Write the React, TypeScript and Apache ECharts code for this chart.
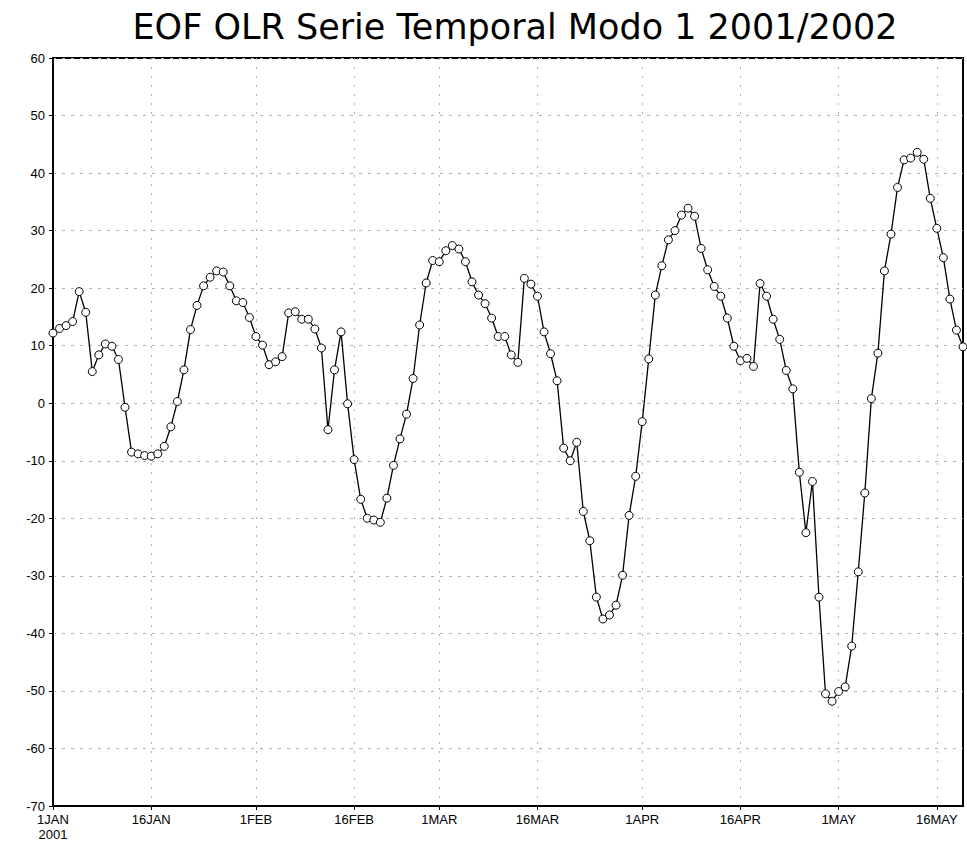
import React, { useEffect, useRef } from "react";
import * as echarts from "echarts";

const TITLE = "EOF OLR Serie Temporal Modo 1 2001/2002";
const START_YEAR = 2001;
const MONTHS = ["JAN", "FEB", "MAR", "APR", "MAY", "JUN", "JUL", "AUG", "SEP", "OCT", "NOV", "DEC"];

// daily values, 1 Jan 2001 .. 20 May 2001
const values: number[] = [
  12.2, 13.0, 13.5, 14.2, 19.4, 15.8, 5.5, 8.4, 10.3, 9.9,
  7.6, -0.7, -8.5, -8.8, -9.1, -9.2, -8.8, -7.5, -4.1, 0.3,
  5.8, 12.8, 17.0, 20.4, 21.9, 23.0, 22.8, 20.4, 17.8, 17.5,
  14.9, 11.6, 10.1, 6.7, 7.2, 8.1, 15.7, 15.9, 14.6, 14.6,
  12.9, 9.6, -4.6, 5.8, 12.4, -0.1, -9.8, -16.7, -20.0, -20.3,
  -20.7, -16.5, -10.8, -6.2, -1.9, 4.3, 13.6, 20.9, 24.8, 24.6,
  26.5, 27.4, 26.8, 24.6, 21.1, 18.8, 17.3, 14.8, 11.6, 11.6,
  8.4, 7.1, 21.7, 20.7, 18.6, 12.4, 8.6, 3.9, -7.8, -10.0,
  -6.8, -18.8, -23.9, -33.7, -37.5, -36.8, -35.1, -29.9, -19.5, -12.7,
  -3.2, 7.7, 18.8, 23.9, 28.4, 30.0, 32.7, 33.9, 32.5, 26.9,
  23.2, 20.3, 18.6, 14.8, 9.9, 7.4, 7.8, 6.4, 20.8, 18.6,
  14.6, 11.1, 5.7, 2.5, -12.0, -22.5, -13.6, -33.7, -50.5, -51.8,
  -50.1, -49.3, -42.2, -29.3, -15.6, 0.8, 8.7, 23.0, 29.4, 37.5,
  42.3, 42.6, 43.6, 42.4, 35.6, 30.4, 25.3, 18.1, 12.7, 9.8,
];

const Y_MIN = -70;
const Y_MAX = 60;
const Y_STEP = 10;

function dayLabel(i: number): { day: number; text: string } {
  const d = new Date(Date.UTC(START_YEAR, 0, 1 + i));
  const day = d.getUTCDate();
  return { day, text: `${day}${MONTHS[d.getUTCMonth()]}` };
}

const categories: string[] = values.map((_, i) => dayLabel(i).text);
const isTickDay = (idx: number) => {
  const day = dayLabel(idx).day;
  return day === 1 || day === 16;
};

export default function App() {
  const ref = useRef<HTMLDivElement>(null);
  useEffect(() => {
    if (!ref.current) return;
    const chart = echarts.init(ref.current, undefined, { renderer: "svg" });
    const font = "'Liberation Sans', Arial, sans-serif";
    chart.setOption({
      animation: false,
      backgroundColor: "#ffffff",
      title: {
        text: TITLE,
        left: 510,
        textAlign: "center",
        top: 4,
        textStyle: {
          fontFamily: "'DejaVu Sans', sans-serif",
          fontSize: 35,
          fontWeight: "normal",
          color: "#000",
        },
      },
      grid: {
        left: 53,
        top: 58,
        width: 910,
        height: 748,
        show: true,
        borderColor: "#000",
        borderWidth: 2,
        backgroundColor: "transparent",
      },
      xAxis: {
        type: "category",
        data: categories,
        boundaryGap: false,
        axisLine: { show: true, onZero: false, lineStyle: { color: "#000", width: 2 } },
        axisTick: {
          show: true,
          inside: false,
          length: 4,
          interval: (idx: number) => isTickDay(idx),
          lineStyle: { color: "#000", width: 1 },
        },
        axisLabel: {
          show: true,
          interval: (idx: number) => isTickDay(idx),
          margin: 6,
          color: "#000",
          fontFamily: font,
          fontSize: 13,
          lineHeight: 15,
          formatter: (val: string, idx: number) => (idx === 0 ? `${val}\n${START_YEAR}` : val),
        },
        splitLine: {
          show: true,
          interval: (idx: number) => isTickDay(idx),
          lineStyle: { color: "#b0b0b0", width: 1, type: [2, 7] },
        },
      },
      yAxis: {
        type: "value",
        min: Y_MIN,
        max: Y_MAX,
        interval: Y_STEP,
        axisLine: { show: true, onZero: false, lineStyle: { color: "#000", width: 2 } },
        axisTick: { show: true, inside: false, length: 4, lineStyle: { color: "#000", width: 1 } },
        axisLabel: {
          color: "#000",
          fontFamily: font,
          fontSize: 13,
          margin: 8,
        },
        splitLine: { show: true, lineStyle: { color: "#b0b0b0", width: 1, type: [3, 6] } },
      },
      series: [
        {
          type: "line",
          data: values,
          symbol: "circle",
          symbolSize: 8,
          showAllSymbol: true,
          lineStyle: { color: "#000", width: 1.3 },
          itemStyle: { color: "#fff", borderColor: "#000", borderWidth: 1 },
          clip: false,
        },
      ],
    });
    return () => chart.dispose();
  }, []);
  return (
    <div
      ref={ref}
      style={{ position: "fixed", left: 0, top: 0, width: 967, height: 850, background: "#fff" }}
    />
  );
}
